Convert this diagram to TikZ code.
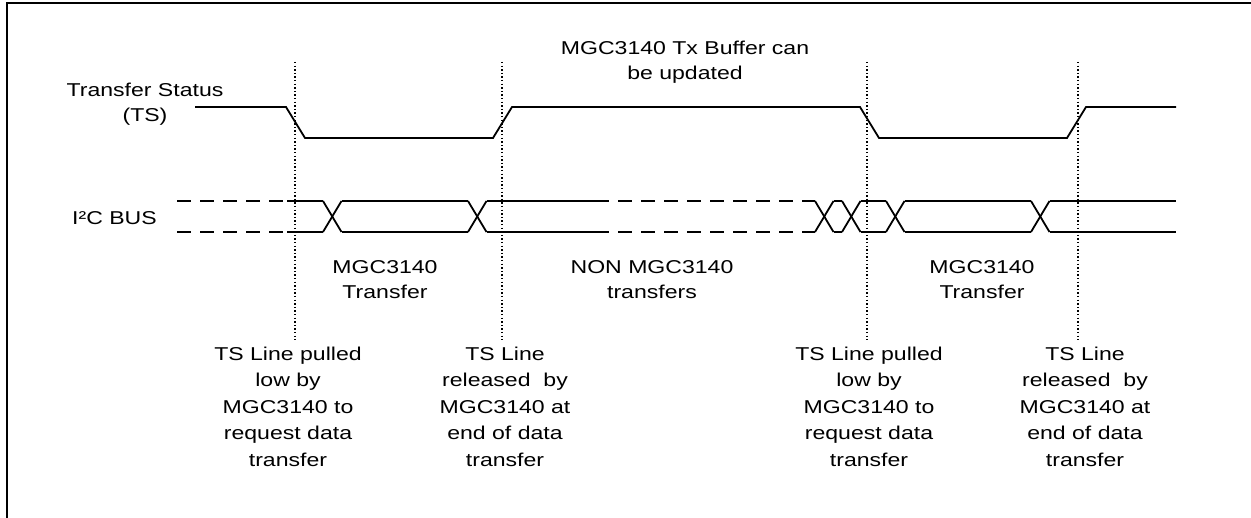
\documentclass[tikz,border=0pt]{standalone}
\usepackage{fontspec}
\newfontfamily\diagfont{Liberation Sans}[FakeStretch=1.24]
\usepackage{tikz}
\usetikzlibrary{positioning, calc}

\begin{document}
\begin{tikzpicture}[x=1pt, y=-1pt,
    every node/.style={font=\diagfont\fontsize{18.6}{26.6}\selectfont, inner sep=0pt},
    frameline/.style={line width=2.6pt},
    signal/.style={line width=1.8pt, line join=miter},
    idlebus/.style={line width=1.8pt, dash pattern=on 14pt off 9pt},
    marker/.style={line width=1.3pt, dash pattern=on 1.4pt off 2.2pt},
    caption/.style={align=center, anchor=base},
    shortcap/.style={caption, font=\diagfont\fontsize{18.6}{25}\selectfont},
]
\useasboundingbox (0,0) rectangle (1251,518);

% ── Frame ─────────────────────────────────────────────────────────────
\draw[frameline] (7,518) -- (7,3) -- (1251,3);

% ── Row labels (base = last line) ─────────────────────────────────────
\node[shortcap] (tsLabel) at (145,121.5) {Transfer Status\\(TS)};
\node[anchor=base west] (busLabel) at (72,224.5) {I²C BUS};
\node[shortcap] (bufNote) at (685,79.5) {MGC3140 Tx Buffer can\\be updated};

% ── Transfer Status line ──────────────────────────────────────────────
\draw[signal] (195,107) -- (286,107) -- (305,138) -- (493,138) -- (512,107)
    -- (860,107) -- (879,138) -- (1067,138) -- (1086,107) -- (1176,107);

% ── I2C bus ───────────────────────────────────────────────────────────
\foreach \by in {201,232} {
    \draw[idlebus] (177,\by) -- (287,\by);
    \draw[idlebus] (595,\by) -- (815,\by);
    \draw[signal] (287,\by) -- (323,\by);
    \draw[signal] (341.5,\by) -- (468,\by);
    \draw[signal] (486.5,\by) -- (595,\by);
    \draw[signal] (833.5,\by) -- (842,\by);
    \draw[signal] (860.5,\by) -- (886,\by);
    \draw[signal] (904.5,\by) -- (1031,\by);
    \draw[signal] (1049.5,\by) -- (1176,\by);
}
\foreach \cx in {323,468,815,842,886,1031} {
    \draw[signal] (\cx,201) -- ++(18.5,31);
    \draw[signal] (\cx,232) -- ++(18.5,-31);
}

% ── Markers ───────────────────────────────────────────────────────────
\foreach \mx/\mname in {295/pull1, 502/rel1, 867/pull2, 1078/rel2} {
    \coordinate (\mname top) at (\mx,62);
    \coordinate (\mname bot) at (\mx,340);
    \draw[marker] (\mname top) -- (\mname bot);
}

% ── Transfer notes ────────────────────────────────────────────────────
\node[shortcap] (xfer1) at (385,299) {MGC3140\\Transfer};
\node[shortcap] (nonXfer) at (652,299) {NON MGC3140\\transfers};
\node[shortcap] (xfer2) at (982,299) {MGC3140\\Transfer};

\node[caption] (pull1) at (288,466.5) {TS Line pulled\\low by\\MGC3140 to\\request data\\transfer};
\node[caption] (rel1) at (505,466.5) {TS Line\\released~ by\\MGC3140 at\\end of data\\transfer};
\node[caption] (pull2) at (869,466.5) {TS Line pulled\\low by\\MGC3140 to\\request data\\transfer};
\node[caption] (rel2) at (1085,466.5) {TS Line\\released~ by\\MGC3140 at\\end of data\\transfer};

\end{tikzpicture}
\end{document}
